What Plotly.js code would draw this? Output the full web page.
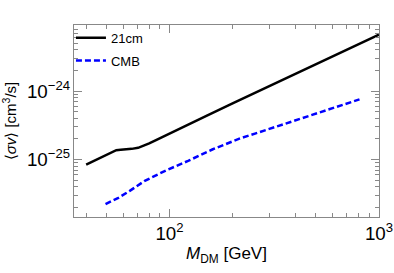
<!DOCTYPE html>
<html>
<head>
<meta charset="utf-8">
<script src="https://cdn.plot.ly/plotly-3.0.1.min.js"></script>
<style>html,body{margin:0;padding:0;background:#fff;}#chart{width:394px;height:273px;}</style>
</head>
<body>
<div id="chart"></div>
<script>
// Data
const mass21 = [40, 55.7, 58.5, 62, 66, 70.8, 75, 80, 86.7, 100, 112, 150, 200, 300, 400, 600, 800, 1000];
const sigma21 = [8.45e-26, 1.37e-25, 1.385e-25, 1.40e-25, 1.43e-25, 1.48e-25, 1.57e-25, 1.72e-25, 1.94e-25, 2.40e-25, 2.86e-25, 4.35e-25, 6.59e-25, 1.18e-24, 1.79e-24, 3.2e-24, 4.84e-24, 6.67e-24];
const massCMB = [49.5, 57, 64.6, 76.2, 96.8, 122.7, 160, 217, 256, 300, 420, 600, 807];
const sigmaCMB = [2.23e-26, 2.75e-26, 3.48e-26, 4.88e-26, 6.98e-26, 9.55e-26, 1.4e-25, 2.03e-25, 2.39e-25, 2.8e-25, 3.92e-25, 5.6e-25, 7.56e-25];
const names = ["21cm", "CMB"];

const traces = [
  {x: mass21, y: sigma21, name: names[0], mode: "lines", type: "scatter", legendgroup: "a",
   line: {color: "#000000", width: 2.5}},
  {x: massCMB, y: sigmaCMB, name: names[1], mode: "lines", type: "scatter", legendgroup: "b",
   line: {color: "#0000ff", width: 2.5, dash: "6px,3px"}}
];

const font = "Liberation Sans, Arial, Helvetica, sans-serif";
const axisCommon = {
  type: "log",
  showgrid: false, zeroline: false,
  showline: true, linecolor: "#888", linewidth: 1, mirror: "ticks",
  ticks: "inside", ticklen: 8, tickcolor: "#888", tickwidth: 1,
  dtick: 1, exponentformat: "power",
  tickfont: {family: font, size: 15, color: "#000"},
  minor: {ticks: "inside", ticklen: 4, tickcolor: "#888", dtick: "D1", showgrid: false}
};

const layout = {
  width: 394, height: 273,
  margin: {l: 74, r: 15, t: 25, b: 56},
  paper_bgcolor: "#fff", plot_bgcolor: "#fff",
  showlegend: true,
  legend: {x: -0.01, y: 1.012, xanchor: "left", yanchor: "top",
           bgcolor: "rgba(0,0,0,0)", font: {family: font, size: 13, color: "#000"},
           itemwidth: 30, traceorder: "grouped", tracegroupgap: 3},
  xaxis: Object.assign({}, axisCommon, {
    range: [Math.log10(35), 3],
    title: {text: "<i>M</i><sub>DM</sub> [GeV]", font: {family: font, size: 17, color: "#000"}, standoff: 4}
  }),
  yaxis: Object.assign({}, axisCommon, {
    range: [-25.84, -23.035],
    title: {text: "⟨<i>σv</i>⟩ [cm<sup>3</sup>/s]", font: {family: font, size: 15, color: "#000"}, standoff: 6}
  })
};

Plotly.newPlot("chart", traces, layout, {displayModeBar: false, staticPlot: true});
</script>
</body>
</html>
